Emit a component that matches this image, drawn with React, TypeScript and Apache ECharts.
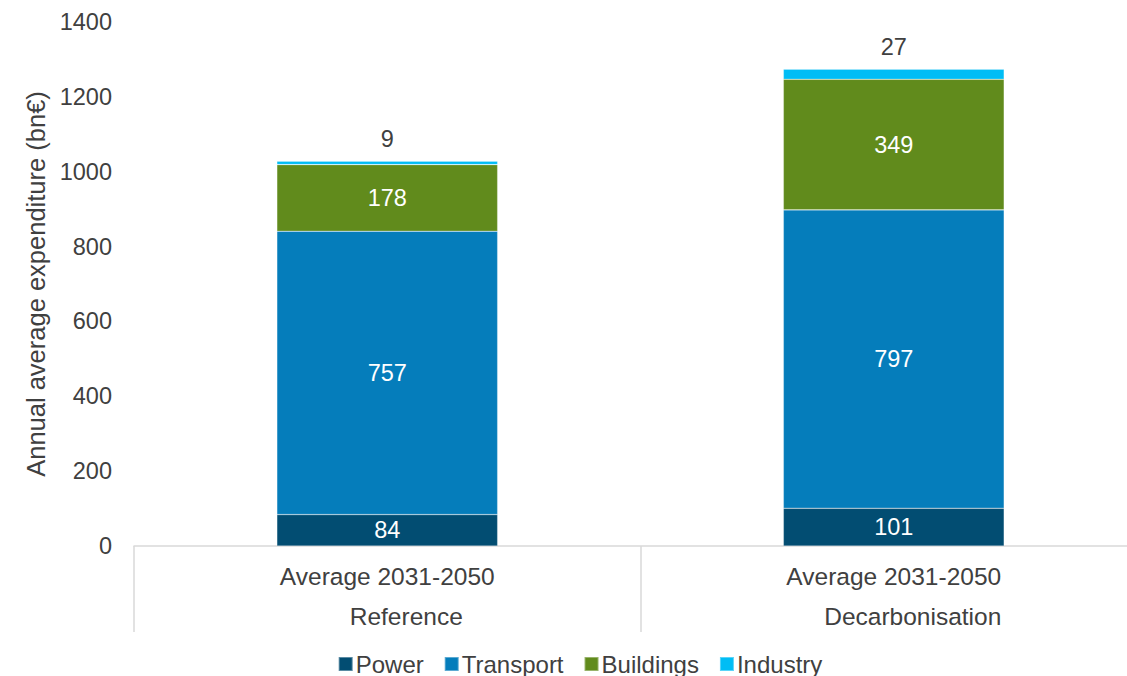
import React, { useEffect, useRef } from "react";
import * as echarts from "echarts";

const periods = ["Average 2031-2050", "Average 2031-2050"];
const scenarios = ["Reference", "Decarbonisation"];
const categories = scenarios.map((s, i) => `${periods[i]}|${s}`);
const power = [84, 101];
const transport = [757, 797];
const buildings = [178, 349];
const industry = [9, 27];
const seriesNames = ["Power", "Transport", "Buildings", "Industry"];
const colors = ["#024d72", "#057dbb", "#618b1c", "#00bdf5"];

export default function App() {
  const ref = useRef<HTMLDivElement>(null);
  useEffect(() => {
    document.body.style.margin = "0";
    document.body.style.overflow = "hidden";
    document.documentElement.style.overflow = "hidden";
    const chart = echarts.init(ref.current!, null, { renderer: "svg" });
    const font = "'Liberation Sans', Arial, sans-serif";
    const values = [power, transport, buildings, industry];
    chart.setOption({
      animation: false,
      textStyle: { fontFamily: font },
      legend: {
        bottom: -5,
        left: "center",
        itemWidth: 14,
        itemHeight: 14,
        itemGap: 20,
        icon: "rect",
        textStyle: { fontSize: 24, color: "#404040", fontFamily: font, padding: [0, 0, 0, -2] },
        data: seriesNames,
      },
      grid: { left: 134, top: 22, right: 13, height: 524, containLabel: false },
      xAxis: {
        type: "category",
        data: categories,
        axisLine: { show: true, lineStyle: { color: "#d9d9d9", width: 1.5 } },
        axisTick: { show: true, length: 86, alignWithLabel: false, lineStyle: { color: "#d9d9d9", width: 1.5 } },
        axisLabel: {
          margin: 10,
          formatter: (v: string) => {
            const [p, s] = v.split("|");
            return `{a|${p}}\n{b|${s}}`;
          },
          rich: {
            a: { fontSize: 24.5, color: "#404040", lineHeight: 40, fontFamily: font },
            b: { fontSize: 24.5, color: "#404040", lineHeight: 40, fontFamily: font, padding: [0, 0, 0, 38] },
          },
        },
      },
      yAxis: {
        type: "value",
        min: 0,
        max: 1400,
        interval: 200,
        name: "Annual average expenditure (bn€)",
        nameLocation: "middle",
        nameGap: 84,
        nameTextStyle: { fontSize: 25.5, color: "#404040", fontFamily: font },
        axisLine: { show: false },
        axisTick: { show: false },
        splitLine: { show: false },
        axisLabel: {
          fontSize: 23.5,
          color: "#404040",
          margin: 22,
          fontFamily: font,
          formatter: (v: number) => String(v),
        },
      },
      series: seriesNames.map((name, i) => ({
        name,
        type: "bar",
        stack: "total",
        barWidth: "43.6%",
        data: values[i],
        itemStyle: { color: colors[i], borderColor: "rgba(255,255,255,0.35)", borderWidth: 0.6 },
        label: {
          show: true,
          position: i === 3 ? "top" : "inside",
          distance: 10,
          fontSize: 23.5,
          color: i === 3 ? "#404040" : "#ffffff",
          fontFamily: font,
        },
      })),
    });
    return () => chart.dispose();
  }, []);
  return <div ref={ref} style={{ width: 1160, height: 676 }} />;
}
